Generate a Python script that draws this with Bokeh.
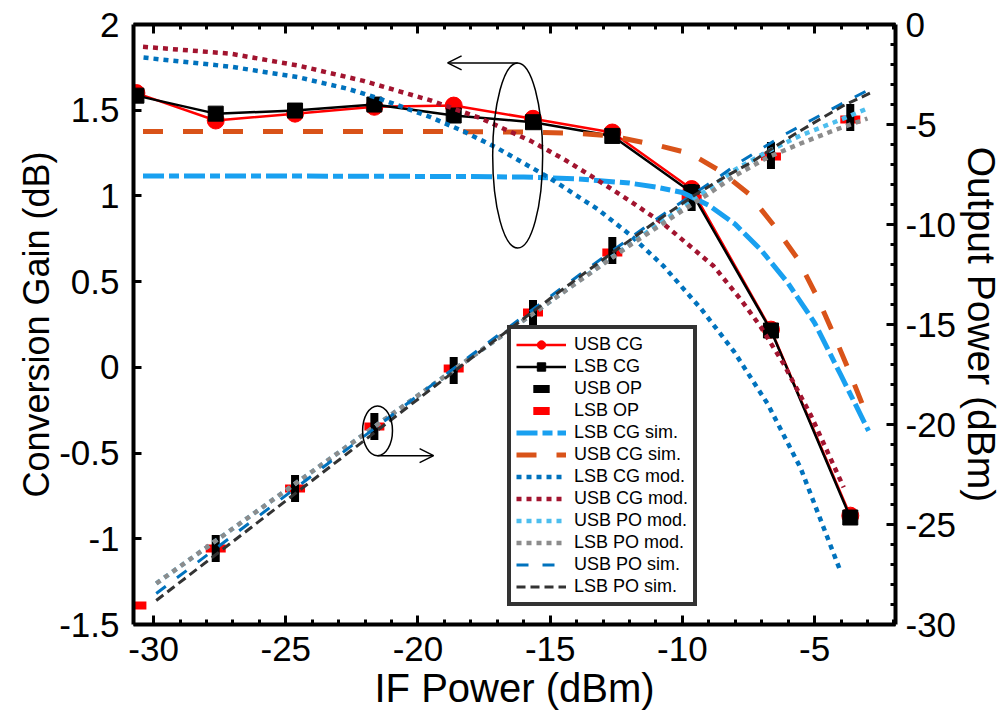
import math
from bokeh.plotting import figure
from bokeh.models import (Range1d, LinearAxis, FixedTicker, Legend, LegendItem,
                          Arrow, OpenHead, Title)
from bokeh.embed import file_html
from bokeh.resources import INLINE

FONT = "Liberation Sans"
NAN = float("nan")

# ---------------- data ----------------
if_power = [-30.65, -27.65, -24.65, -21.65, -18.65, -15.65, -12.65, -9.65, -6.65, -3.65]
usb_cg = [1.60, 1.44, 1.48, 1.52, 1.527, 1.45, 1.37, 1.04, 0.22, -0.865]
lsb_cg = [1.585, 1.48, 1.498, 1.533, 1.469, 1.43, 1.35, 1.02, 0.215, -0.876]
usb_op = [NAN, -26.2, -23.2, -20.1, -17.3, -14.45, -11.3, -8.65, -6.55, -4.65]
lsb_op = [-29.05, -26.2, -23.2, -20.1, -17.2, -14.4, -11.4, -8.7, -6.6, -4.75]

lsb_cg_sim_x = [-30.4, -26, -22, -18, -16, -14, -12, -11, -10, -9, -8, -7, -6, -5, -4, -2.96]
lsb_cg_sim_y = [1.116, 1.116, 1.115, 1.113, 1.11, 1.10, 1.075, 1.052, 1.02, 0.945, 0.835, 0.68,
                0.49, 0.26, -0.047, -0.37]

usb_cg_sim_x = [-30.4, -25, -20, -16, -14, -12.7, -10.9, -9.7, -8.6, -7.5, -6.55, -5.65, -4.9,
                -4.3, -3.7, -2.95]
usb_cg_sim_y = [1.376, 1.376, 1.376, 1.373, 1.365, 1.35, 1.294, 1.247, 1.148, 1.014, 0.83,
                0.635, 0.41, 0.2, -0.02, -0.31]

lsb_cg_mod_x = [-30.38, -27.09, -24.55, -22.66, -21.41, -19.52, -18.28, -16.99, -15.10, -13.21,
                -11.96, -10.71, -9.31, -8.06, -6.78, -5.53, -4.02]
lsb_cg_mod_y = [1.807, 1.754, 1.693, 1.625, 1.565, 1.459, 1.377, 1.278, 1.112, 0.923, 0.771,
                0.590, 0.345, 0.095, -0.212, -0.587, -1.19]

usb_cg_mod_x = [-30.4, -27.1, -24.55, -22.06, -19.52, -17.63, -15.74, -14.49, -13.21, -11.96,
                -10.71, -8.82, -7.80, -7.04, -6.17, -5.14, -3.90]
usb_cg_mod_y = [1.87, 1.83, 1.761, 1.671, 1.557, 1.453, 1.321, 1.215, 1.093, 0.968, 0.837, 0.591,
                0.397, 0.237, 0.02, -0.28, -0.70]

po_mod_x = [-29.9, -27, -24, -21, -18, -15, -12, -10, -9.05, -8.06, -6.78, -5.53, -4.28, -3.0]
usb_po_mod_y = [-27.95, -25.2, -22.35, -19.5, -16.65, -13.85, -11.0, -9.15, -8.25, -7.3, -6.35,
                -5.55, -4.9, -4.2]
lsb_po_mod_y = [-27.95, -25.2, -22.35, -19.5, -16.65, -13.85, -11.05, -9.3, -8.5, -7.6, -6.65,
                -5.95, -5.3, -4.7]

usb_po_sim_x = [-29.9, -27, -24, -21, -18, -15, -13, -11, -9.5, -8.7, -7.9, -7.0, -6.2, -5.15,
                -4.1, -3.0]
usb_po_sim_y = [-28.45, -25.55, -22.55, -19.55, -16.55, -13.6, -11.65, -9.75, -8.4, -7.7, -6.95,
                -6.2, -5.55, -4.8, -4.05, -3.3]

lsb_po_sim_x = [-29.9, -27, -24, -21, -18, -15, -13, -11, -9.5, -8.3, -7.4, -6.55, -5.65, -4.75,
                -3.9, -2.85]
lsb_po_sim_y = [-28.8, -25.85, -22.8, -19.75, -16.7, -13.7, -11.75, -9.85, -8.5, -7.55, -6.9,
                -6.15, -5.4, -4.7, -4.05, -3.4]

x_ticks = [-30, -25, -20, -15, -10, -5]
x_tick_labels = ["-30", "-25", "-20", "-15", "-10", "-5"]
x_minor = list(range(-30, -1))
cg_ticks = [-1.5, -1, -0.5, 0, 0.5, 1, 1.5, 2]
cg_tick_labels = ["-1.5", "-1", "-0.5", "0", "0.5", "1", "1.5", "2"]
op_ticks = [-30, -25, -20, -15, -10, -5, 0]
op_tick_labels = ["-30", "-25", "-20", "-15", "-10", "-5", "0"]
op_minor = list(range(-30, 1))

x_title = "IF Power (dBm)"
cg_title = "Conversion Gain (dB)"
op_title = "Output Power (dBm)"

# annotation ellipses (centre x, centre y on CG axis, width, height) and arrow targets
ell_x = [-16.23, -21.53]
ell_y = [1.236, -0.37]
ell_w = [1.89, 1.13]
ell_h = [1.08, 0.29]
arrow_end_x = [-18.88, -19.41]

# ---------------- figure ----------------
p = figure(width=1007, height=728, output_backend="svg", toolbar_location=None,
           x_range=Range1d(-30.76, -1.94), y_range=Range1d(-1.5, 2),
           min_border_left=133, min_border_right=112, min_border_top=24,
           min_border_bottom=104)
p.extra_y_ranges = {"op": Range1d(-30, 0)}
p.grid.visible = False
p.outline_line_color = None
p.background_fill_color = "white"
p.border_fill_color = "white"

TICK_SIZE = "35px"


def style_axis(ax, label_size=TICK_SIZE):
    ax.axis_line_width = 4
    ax.axis_line_color = "black"
    ax.major_tick_line_width = 3
    ax.minor_tick_line_width = 3
    ax.major_tick_line_color = "black"
    ax.minor_tick_line_color = "black"
    ax.major_tick_in = 9
    ax.major_tick_out = 0
    ax.minor_tick_in = 5
    ax.minor_tick_out = 0
    ax.major_label_text_font = FONT
    ax.major_label_text_font_size = label_size
    ax.major_label_text_color = "black"


# bottom x axis
xa = p.xaxis[0]
xa.ticker = FixedTicker(ticks=x_ticks, minor_ticks=x_minor)
xa.major_label_overrides = dict(zip(x_ticks, x_tick_labels))
style_axis(xa)
xa.major_label_standoff = 12

# left y axis
ya = p.yaxis[0]
ya.ticker = FixedTicker(ticks=cg_ticks, minor_ticks=[])
ya.major_label_overrides = dict(zip(cg_ticks, cg_tick_labels))
style_axis(ya)
ya.major_tick_in = 8
ya.major_label_standoff = 14

# right y axis
ra = LinearAxis(y_range_name="op", ticker=FixedTicker(ticks=op_ticks, minor_ticks=op_minor))
ra.major_label_overrides = dict(zip(op_ticks, op_tick_labels))
style_axis(ra)
ra.major_label_standoff = 10
p.add_layout(ra, "right")

# top axis (ticks only, labels not painted)
ta = LinearAxis(ticker=FixedTicker(ticks=x_ticks, minor_ticks=x_minor))
style_axis(ta, label_size="1px")
ta.major_label_text_color = None
ta.major_label_standoff = 0
p.add_layout(ta, "above")

# axis titles as side titles (offset lets them sit where the reference has them)
p.add_layout(Title(text=x_title, align="center", offset=16, standoff=0,
                   text_font=FONT, text_font_size="40px", text_font_style="normal",
                   text_color="black"), "below")
p.add_layout(Title(text=cg_title, align="center", offset=64, standoff=0,
                   text_font=FONT, text_font_size="36px", text_font_style="normal",
                   text_color="black"), "left")
p.add_layout(Title(text=op_title, align="center", offset=6, standoff=0,
                   text_font=FONT, text_font_size="39px", text_font_style="normal",
                   text_color="black"), "right")

# ---------------- measured data ----------------
r_usb_l = p.line(if_power, usb_cg, line_color="red", line_width=2.5)
r_usb_m = p.scatter(if_power, usb_cg, marker="circle", size=17, fill_color="red", line_color="red")
r_lsb_l = p.line(if_power, lsb_cg, line_color="black", line_width=2.5)
r_lsb_m = p.scatter(if_power, lsb_cg, marker="square", size=15, fill_color="black",
                    line_color="black")
r_lsb_op = p.scatter(if_power, lsb_op, marker="dash", size=12, line_width=8, line_color="red",
                     line_cap="square", y_range_name="op")
r_usb_op = p.scatter(if_power, usb_op, marker="dash", size=19, angle=math.pi / 2, line_width=8,
                     line_color="black", line_cap="square", y_range_name="op")

# ---------------- simulation / model curves ----------------
r1 = p.line(lsb_cg_sim_x, lsb_cg_sim_y, line_color="#19A0F0", line_width=5, line_dash="21 5 10 5")
r2 = p.line(usb_cg_sim_x, usb_cg_sim_y, line_color="#D95319", line_width=5, line_dash="20 20")
r3 = p.line(lsb_cg_mod_x, lsb_cg_mod_y, line_color="#0072BD", line_width=4.5, line_dash="5 5")
r4 = p.line(usb_cg_mod_x, usb_cg_mod_y, line_color="#A2142F", line_width=4.5, line_dash="5 5")
r5 = p.line(po_mod_x, usb_po_mod_y, line_color="#4DBEEE", line_width=4.5, line_dash="5 5",
            y_range_name="op")
r6 = p.line(po_mod_x, lsb_po_mod_y, line_color="#8C8C8C", line_width=4.5, line_dash="5 5",
            y_range_name="op")
r7 = p.line(usb_po_sim_x, usb_po_sim_y, line_color="#0072BD", line_width=3, line_dash="12 14",
            y_range_name="op")
r8 = p.line(lsb_po_sim_x, lsb_po_sim_y, line_color="#333333", line_width=3, line_dash="9 5",
            y_range_name="op")

# ---------------- annotations ----------------
p.ellipse(x=ell_x, y=ell_y, width=ell_w, height=ell_h, fill_color=None, line_color="black",
          line_width=1.5)
a1_y = ell_y[0] + ell_h[0] / 2
a2_y = ell_y[1] - ell_h[1] / 2
for xs, ys, xe in [(ell_x[0], a1_y, arrow_end_x[0]), (ell_x[1], a2_y, arrow_end_x[1])]:
    p.add_layout(Arrow(end=OpenHead(size=14, line_width=1.5, line_color="black"),
                       x_start=xs, y_start=ys, x_end=xe, y_end=ys,
                       line_width=1.5, line_color="black"))

# ---------------- legend ----------------
items = [
    LegendItem(label="USB CG", renderers=[r_usb_l, r_usb_m]),
    LegendItem(label="LSB CG", renderers=[r_lsb_l, r_lsb_m]),
    LegendItem(label="USB OP", renderers=[r_usb_op]),
    LegendItem(label="LSB OP", renderers=[r_lsb_op]),
    LegendItem(label="LSB CG sim.", renderers=[r1]),
    LegendItem(label="USB CG sim.", renderers=[r2]),
    LegendItem(label="LSB CG mod.", renderers=[r3]),
    LegendItem(label="USB CG mod.", renderers=[r4]),
    LegendItem(label="USB PO mod.", renderers=[r5]),
    LegendItem(label="LSB PO mod.", renderers=[r6]),
    LegendItem(label="USB PO sim.", renderers=[r7]),
    LegendItem(label="LSB PO sim.", renderers=[r8]),
]
legend = Legend(items=items, location=(374, 18),
                label_text_font=FONT, label_text_font_size="18px", label_text_color="black",
                label_text_align="left",
                glyph_width=50, glyph_height=21, label_height=21,
                spacing=1, padding=5, label_standoff=8, margin=0,
                border_line_color="#333333", border_line_width=4, border_line_alpha=1.0,
                background_fill_color="white", background_fill_alpha=1.0)
p.add_layout(legend)

open("out.html", "w").write(file_html(p, INLINE))
